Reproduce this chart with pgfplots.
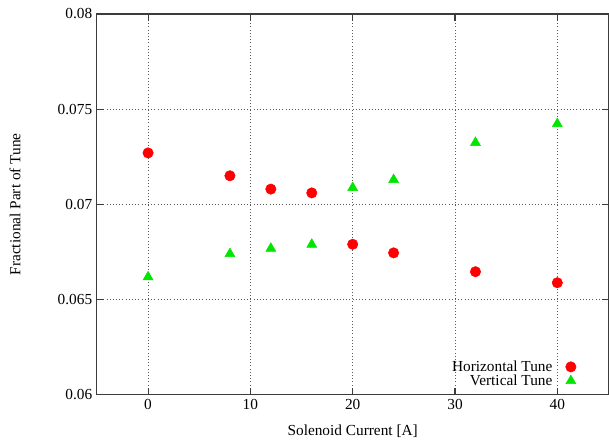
\documentclass[border=0pt]{standalone}
\usepackage{fontspec}
\setmainfont{Liberation Serif}
\usepackage{pgfplots}
\pgfplotsset{compat=1.18}
\definecolor{tunered}{RGB}{255,0,0}
\definecolor{tunegreen}{RGB}{0,230,0}
\definecolor{framegray}{RGB}{60,60,60}

\begin{document}
\begin{tikzpicture}
\begin{axis}[
    scale only axis,
    width=384pt, height=285.75pt,
    xmin=-5, xmax=45,
    ymin=0.06, ymax=0.08,
    xtick={0,10,20,30,40},
    ytick={0.06,0.065,0.07,0.075,0.08},
    scaled y ticks=false,
    yticklabel style={/pgf/number format/fixed, /pgf/number format/precision=3},
    /pgf/number format/assume math mode=true,
    tick align=inside,
    major tick length=5pt,
    tick style={framegray, line width=0.8pt},
    axis line style={framegray, line width=0.8pt},
    grid=major,
    major grid style={black!65, dotted, line width=0.6pt},
    font=\fontsize{11.5}{12}\selectfont,
    xlabel={Solenoid Current [A]},
    ylabel={Fractional Part of Tune},
    every axis x label/.style={at={(axis description cs:0.5,-0.097)}, anchor=center},
    every axis y label/.style={at={(axis description cs:-0.16,0.5)}, rotate=90, anchor=center},
    legend style={draw=none, fill=none, at={(0.945,0.005)}, anchor=south east,
        row sep=-3pt, column sep=8pt, font=\fontsize{11.5}{11}\selectfont},
    legend cell align=right,
    legend plot pos=right,
]
\addplot[only marks, mark=*, mark size=3.9pt, color=tunered] coordinates {
    (0,0.0727) (8,0.0715) (12,0.0708) (16,0.0706)
    (20,0.0679) (24,0.06745) (32,0.06646) (40,0.06588)
};
\addlegendentry{Horizontal Tune}
\addplot[only marks, mark=triangle*, mark size=4.3pt, color=tunegreen] coordinates {
    (0,0.06618) (8,0.0674) (12,0.06768) (16,0.06789)
    (20,0.07087) (24,0.07129) (32,0.07324) (40,0.07423)
};
\addlegendentry{Vertical Tune}
\end{axis}
\path (current axis.south west) ++(-72.75pt,-36pt);
\path (current axis.north east) ++(0,10.5pt);
\end{tikzpicture}
\end{document}
